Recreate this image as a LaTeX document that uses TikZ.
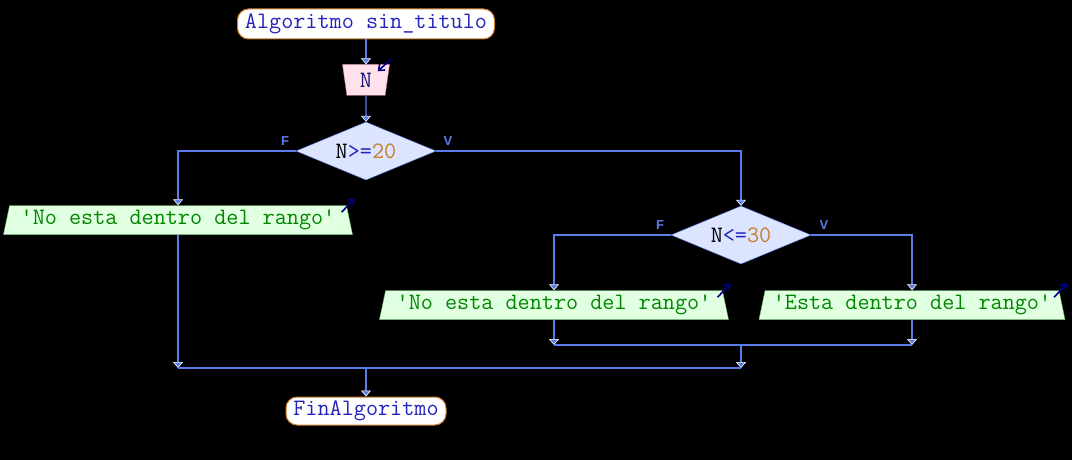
\documentclass[tikz,border=0pt]{standalone}
\usepackage{fontspec}
\setsansfont{Liberation Sans}
\usetikzlibrary{shapes.geometric,arrows.meta}

\definecolor{flowblue}{RGB}{90,125,235}
\definecolor{decfill}{RGB}{220,228,255}
\definecolor{infill}{RGB}{255,225,235}
\definecolor{inborder}{RGB}{200,120,150}
\definecolor{outfill}{RGB}{225,255,225}
\definecolor{outborder}{RGB}{90,200,90}
\definecolor{outtext}{RGB}{0,135,0}
\definecolor{kwblue}{RGB}{35,35,190}
\definecolor{numorange}{RGB}{200,125,40}
\definecolor{iconblue}{RGB}{0,0,140}

\begin{document}
\begin{tikzpicture}[x=1pt,y=-1pt,
  font=\ttfamily\fontsize{23.5}{25}\selectfont,
  flow/.style={draw=flowblue,line width=1.3pt,
    -{Triangle[length=6pt,width=10pt,fill=flowblue,color=white,line width=0.6pt]}},
  line/.style={draw=flowblue,line width=1.3pt},
  terminal/.style={draw=numorange,fill=white,rounded corners=11pt,
    text=kwblue,minimum height=30pt,inner xsep=6pt,inner ysep=0pt,line width=1pt},
  reading/.style={trapezium,shape border rotate=180,trapezium angle=73,
    draw=inborder,fill=infill,minimum height=31pt,minimum width=47pt,
    trapezium stretches body,inner xsep=2pt,inner ysep=0pt,text=kwblue!60!black},
  writing/.style={trapezium,trapezium angle=73,draw=outborder,fill=outfill,
    minimum height=29pt,trapezium stretches body,inner xsep=2pt,inner ysep=0pt,text=outtext},
  decision/.style={diamond,draw=flowblue,fill=decfill,aspect=2.4,
    minimum width=140pt,minimum height=58pt,inner sep=0pt},
  branch/.style={font=\sffamily\bfseries\fontsize{13}{13}\selectfont,text=flowblue},
  icon/.style={draw=iconblue,line width=1.6pt,-{Straight Barb[length=5pt,width=8pt]}}]

\fill[black] (0,0) rectangle (1072,460);

% nodes
\node[terminal,minimum width=257pt] (start) at (366,24) {Algoritmo sin\_titulo};
\node[reading] (leer) at (366,80) {N};
\node[decision] (c1) at (366,151) {\color{black}N\color{kwblue}>=\color{numorange}20};
\node[writing,minimum width=349pt] (esc1) at (178,220) {'No esta dentro del rango'};
\node[decision] (c2) at (741,235) {\color{black}N\color{kwblue}<=\color{numorange}30};
\node[writing,minimum width=349pt] (esc2) at (554,305) {'No esta dentro del rango'};
\node[writing,minimum width=306pt] (esc3) at (912,305) {'Esta dentro del rango'};
\node[terminal,minimum width=160pt,minimum height=28pt] (fin) at (366,411) {FinAlgoritmo};

% joins
\coordinate (j2l) at (554,345);
\coordinate (j2r) at (912,345);
\coordinate (j2) at (741,345);
\coordinate (j1l) at (178,368);
\coordinate (j1r) at (741,368);
\coordinate (j1) at (366,368);

% connectors
\draw[flow] (start) -- (leer);
\draw[flow] (leer) -- (c1);
\draw[flow] (c1.west) -| (esc1.north);
\draw[flow] (c1.east) -| (c2.north);
\draw[flow] (c2.west) -| (esc2.north);
\draw[flow] (c2.east) -| (esc3.north);
\draw[flow] (esc2) -- (j2l);
\draw[flow] (esc3) -- (j2r);
\draw[line] (j2l) -- (j2r);
\draw[flow] (esc1) -- (j1l);
\draw[flow] (j2) -- (j1r);
\draw[line] (j1l) -- (j1r);
\draw[flow] (j1) -- (fin);

% branch labels
\node[branch] (f1) at (285,141) {F};
\node[branch] (v1) at (448,141) {V};
\node[branch] (f2) at (660,225) {F};
\node[branch] (v2) at (824,225) {V};

% io icons
\draw[icon] ([shift={(1,-5)}]leer.bottom left corner) -- ++(-13,12);
\draw[icon] ([shift={(-5,7)}]esc1.top right corner) -- ++(13,-14);
\draw[icon] ([shift={(-5,7)}]esc2.top right corner) -- ++(13,-14);
\draw[icon] ([shift={(-5,7)}]esc3.top right corner) -- ++(13,-14);
\end{tikzpicture}
\end{document}
